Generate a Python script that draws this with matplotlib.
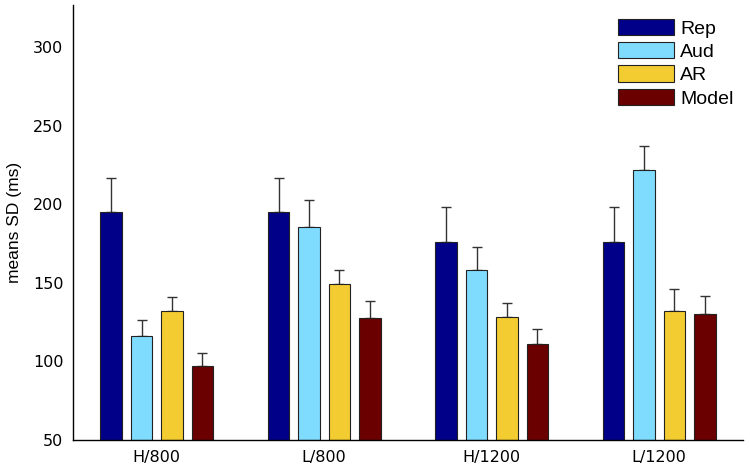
import matplotlib
matplotlib.use("Agg")
import matplotlib.pyplot as plt
import numpy as np

plt.rcParams['font.family'] = ['Liberation Sans', 'DejaVu Sans']

conditions = ["H/800", "L/800", "H/1200", "L/1200"]
series = ["Rep", "Aud", "AR", "Model"]
means = {
    "Rep":   [195.2, 195.2, 175.8, 175.8],
    "Aud":   [116.4, 185.3, 158.4, 221.8],
    "AR":    [132.3, 149.2, 128.5, 132.3],
    "Model": [97.1, 127.4, 111.1, 130.2],
}
err_tops = {
    "Rep":   [216.7, 216.7, 198.0, 198.0],
    "Aud":   [126.3, 202.9, 173.0, 237.2],
    "AR":    [141.0, 158.1, 137.4, 146.0],
    "Model": [105.3, 138.4, 120.8, 141.6],
}
colors = {"Rep": "#000088", "Aud": "#80DCFF", "AR": "#F2CC30", "Model": "#6B0000"}

fig = plt.figure(figsize=(7.5, 4.71), dpi=100)
ax = fig.add_axes([73/750, 31/471, 670/750, 435/471])

x = np.arange(1, len(conditions) + 1)
step = 0.1815
width = 0.128
for i, s in enumerate(series):
    pos = x + (i - 1.5) * step
    m = np.array(means[s])
    up = np.array(err_tops[s]) - m
    ax.bar(pos, m - 50, width, bottom=50, color=colors[s], edgecolor="#222222",
           linewidth=0.8, label=s, zorder=2)
    ax.errorbar(pos, m, yerr=[np.zeros_like(up), up], fmt='none', ecolor="#333333",
                elinewidth=1.0, capsize=3.6, capthick=1.0, zorder=1)

ax.set_xlim(0.5, 4.5)
ax.set_ylim(50, 326.7)
ax.set_xticks(x)
ax.set_xticklabels(conditions)
ax.set_yticks([50, 100, 150, 200, 250, 300])
ax.tick_params(axis='both', length=0, labelsize=12, pad=7)
for lab in ax.get_xticklabels() + ax.get_yticklabels():
    lab.set_family(['DejaVu Sans'])
    lab.set_fontsize(11.5)
for sp in ["top", "right"]:
    ax.spines[sp].set_visible(False)
for sp in ["left", "bottom"]:
    ax.spines[sp].set_linewidth(1.0)
ax.set_ylabel("means SD (ms)", fontsize=12.5, labelpad=8)

leg = ax.legend(loc="upper left", frameon=False, fontsize=14,
                handlelength=2.9, handleheight=0.9, labelspacing=0.23,
                handletextpad=0.3, borderaxespad=0.0, borderpad=0.0,
                bbox_to_anchor=((618 - 73) / 670, (440 - 19) / 435))

fig.savefig("out.png", dpi=100)
